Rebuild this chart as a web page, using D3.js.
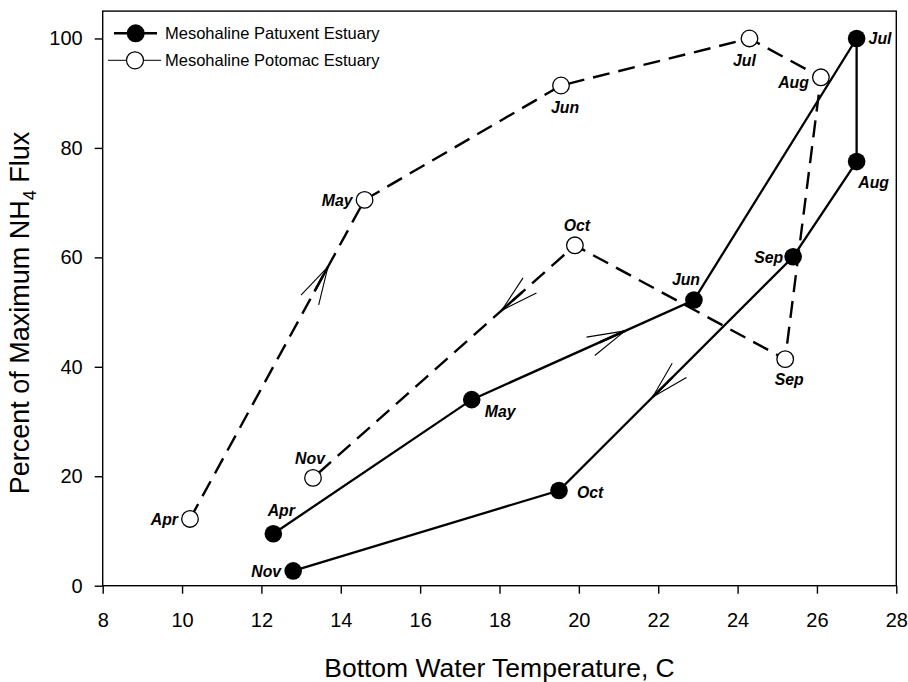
<!DOCTYPE html>
<html>
<head>
<meta charset="utf-8">
<script src="https://cdn.jsdelivr.net/npm/d3@7"></script>
<style>
  html, body { margin: 0; padding: 0; background: #fff; }
  svg { display: block; font-family: "Liberation Sans", Arial, sans-serif; }
</style>
</head>
<body>
<svg id="chart" width="908" height="682"></svg>
<script>
// ---- data ----
const months = ["Apr", "May", "Jun", "Jul", "Aug", "Sep", "Oct", "Nov"];
const patuxentTemp = [12.3, 17.3, 22.9, 27.0, 27.0, 25.4, 19.5, 12.8];
const patuxentFlux = [9.5, 34.0, 52.2, 100, 77.5, 60.1, 17.4, 2.7];
const potomacTemp = [10.2, 14.6, 19.55, 24.3, 26.1, 25.2, 19.9, 13.3];
const potomacFlux = [12.2, 70.5, 91.4, 100, 92.9, 41.4, 62.2, 19.7];
const xTicks = [8, 10, 12, 14, 16, 18, 20, 22, 24, 26, 28];
const yTicks = [0, 20, 40, 60, 80, 100];
const seriesNames = ["Mesohaline Patuxent Estuary", "Mesohaline Potomac Estuary"];

// ---- layout ----
const svg = d3.select("#chart");
const L = 102.7, R = 896.3, T = 11.1, B = 585.7;
const x = d3.scaleLinear().domain([8, 28]).range([L, R]);
const y = d3.scaleLinear().domain([0, 105]).range([B, T]);

// frame
svg.append("rect").attr("x", L).attr("y", T).attr("width", R - L).attr("height", B - T)
  .attr("fill", "none").attr("stroke", "#000").attr("stroke-width", 1.4);

// axes
const xAxis = svg.append("g").attr("transform", `translate(0,${B})`)
  .call(d3.axisBottom(x).tickValues(xTicks).tickSize(8).tickPadding(19).tickSizeOuter(0));
const yAxis = svg.append("g").attr("transform", `translate(${L},0)`)
  .call(d3.axisLeft(y).tickValues(yTicks).tickSize(8).tickPadding(12).tickSizeOuter(0));
[xAxis, yAxis].forEach(g => {
  g.select(".domain").remove();
  g.selectAll("line").attr("stroke", "#000").attr("stroke-width", 1.4);
  g.selectAll("text").attr("font-size", 20).attr("fill", "#000")
    .attr("font-family", "Liberation Sans, Arial, sans-serif");
});

// axis titles
svg.append("text").attr("x", (L + R) / 2).attr("y", 677).attr("text-anchor", "middle")
  .attr("font-size", 26.5).text("Bottom Water Temperature, C");
const yt = svg.append("text").attr("transform", "translate(28.5,313) rotate(-90)")
  .attr("text-anchor", "middle").attr("font-size", 27);
yt.append("tspan").text("Percent of Maximum NH");
yt.append("tspan").attr("font-size", 18).attr("dy", 7).text("4");
yt.append("tspan").attr("dy", -7).text(" Flux");

// series
const pat = months.map((m, i) => ({ m, t: patuxentTemp[i], f: patuxentFlux[i] }));
const pot = months.map((m, i) => ({ m, t: potomacTemp[i], f: potomacFlux[i] }));
const line = d3.line().x(d => x(d.t)).y(d => y(d.f));

svg.append("path").datum(pot).attr("d", line).attr("fill", "none")
  .attr("stroke", "#000").attr("stroke-width", 2.4).attr("stroke-dasharray", "17,9");
svg.append("path").datum(pat).attr("d", line).attr("fill", "none")
  .attr("stroke", "#000").attr("stroke-width", 2.3);

// direction arrows (open chevrons) on selected segments
const arrows = [
  { s: pat, i: 1, f: 0.69 },
  { s: pat, i: 5, f: 0.60 },
  { s: pot, i: 0, f: 0.79 },
  { s: pot, i: 6, f: 0.28 }
];
arrows.forEach(a => {
  const p0 = [x(a.s[a.i].t), y(a.s[a.i].f)];
  const p1 = [x(a.s[a.i + 1].t), y(a.s[a.i + 1].f)];
  const tip = [p0[0] + (p1[0] - p0[0]) * a.f, p0[1] + (p1[1] - p0[1]) * a.f];
  const ang = Math.atan2(p0[1] - p1[1], p0[0] - p1[0]);
  const len = 39, half = 15 * Math.PI / 180;
  [ang - half, ang + half, ang].forEach((t, k) => {
    svg.append("line").attr("x1", tip[0]).attr("y1", tip[1])
      .attr("x2", tip[0] + Math.cos(t) * (k === 2 ? 28 : len))
      .attr("y2", tip[1] + Math.sin(t) * (k === 2 ? 28 : len))
      .attr("stroke", "#000").attr("stroke-width", k === 2 ? 2.4 : 1.1);
  });
});

// markers
svg.selectAll(".potm").data(pot).enter().append("circle")
  .attr("cx", d => x(d.t)).attr("cy", d => y(d.f)).attr("r", 8.3)
  .attr("fill", "#fff").attr("stroke", "#000").attr("stroke-width", 1.3);
svg.selectAll(".patm").data(pat).enter().append("circle")
  .attr("cx", d => x(d.t)).attr("cy", d => y(d.f)).attr("r", 8.8)
  .attr("fill", "#000");

// month labels (placement relative to marker)
const patPlace = [
  [8, -18, "middle"], [13, 17, "start"], [-8, -15, "middle"], [12, 6, "start"],
  [17, 26, "middle"], [-10, 6, "end"], [18, 8, "start"], [-12, 6, "end"]
];
const potPlace = [
  [-12, 6, "end"], [-12, 6, "end"], [4, 27, "middle"], [-5, 28, "middle"],
  [-12, 11, "end"], [4, 26, "middle"], [2, -14, "middle"], [-3, -14, "middle"]
];
function labels(s, place) {
  s.forEach((d, i) => {
    svg.append("text").attr("x", x(d.t) + place[i][0]).attr("y", y(d.f) + place[i][1])
      .attr("text-anchor", place[i][2]).attr("font-size", 15.8)
      .attr("font-weight", "bold").attr("font-style", "italic").text(d.m);
  });
}
labels(pat, patPlace);
labels(pot, potPlace);

// legend
const lg = svg.append("g");
lg.append("line").attr("x1", 114).attr("x2", 157).attr("y1", 33.3).attr("y2", 33.3)
  .attr("stroke", "#000").attr("stroke-width", 2.6);
lg.append("circle").attr("cx", 135.7).attr("cy", 33.3).attr("r", 9).attr("fill", "#000");
lg.append("line").attr("x1", 108).attr("x2", 161).attr("y1", 60.3).attr("y2", 60.3)
  .attr("stroke", "#000").attr("stroke-width", 1);
lg.append("circle").attr("cx", 135).attr("cy", 60.3).attr("r", 8.5)
  .attr("fill", "#fff").attr("stroke", "#000").attr("stroke-width", 1.2);
seriesNames.forEach((n, i) => {
  lg.append("text").attr("x", 165).attr("y", 33.3 + i * 27 + 6).attr("font-size", 16.5).text(n);
});
</script>
</body>
</html>
